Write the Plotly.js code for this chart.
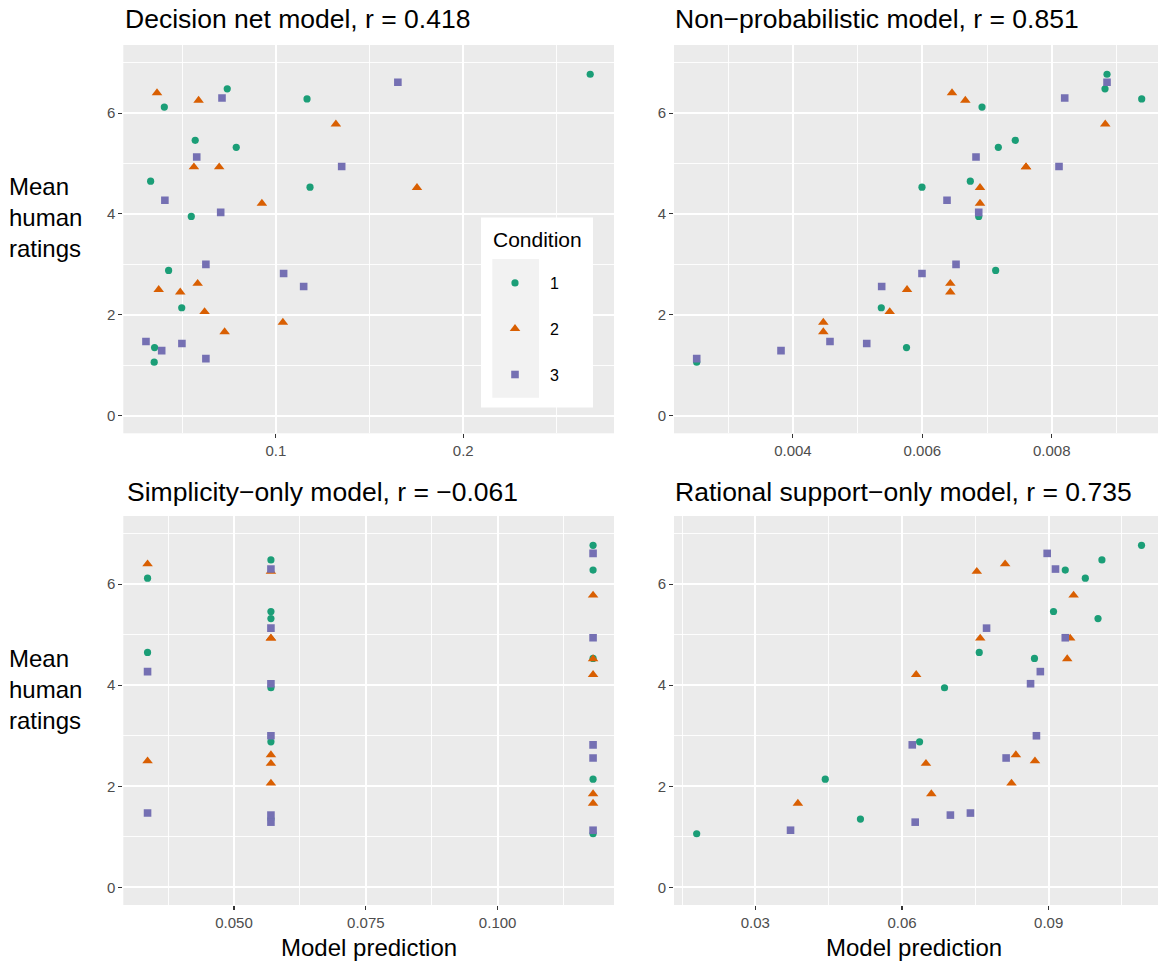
<!DOCTYPE html>
<html>
<head>
<meta charset="utf-8">
<script src="https://cdn.plot.ly/plotly-3.0.1.min.js"></script>
<style>html,body{margin:0;padding:0;background:#fff;}#chart{width:1158px;height:964px;}</style>
</head>
<body>
<div id="chart"></div>
<script>
// ---------------- data ----------------
const conditions = ["1", "2", "3"];
const panelTitles = [
  "Decision net model, r = 0.418",
  "Non\u2212probabilistic model, r = 0.851",
  "Simplicity\u2212only model, r = \u22120.061",
  "Rational support\u2212only model, r = 0.735"
];
const xAxisLabel = "Model prediction";
const yAxisLabel = "Mean<br>human<br>ratings";

// mean human ratings (same items across models)
const ratings1 = [6.77, 6.48, 6.28, 6.12, 5.46, 5.32, 4.65, 4.53, 3.95, 2.88, 2.14, 1.35, 1.06];
const ratings2 = [6.40, 6.25, 5.78, 4.93, 4.93, 4.52, 4.21, 2.62, 2.50, 2.45, 2.06, 1.85, 1.66];
const ratings3 = [6.61, 6.30, 5.13, 4.94, 4.27, 4.03, 3.00, 2.82, 2.56, 1.47, 1.43, 1.29, 1.13];

// Decision net model predictions
const decisionNet1 = [0.2678, 0.0740, 0.1166, 0.0404, 0.0569, 0.0788, 0.0331, 0.1182, 0.0548, 0.0427, 0.0497, 0.0352, 0.0350];
const decisionNet2 = [0.0365, 0.0587, 0.1320, 0.0562, 0.0697, 0.1753, 0.0925, 0.0582, 0.0374, 0.0489, 0.0619, 0.1037, 0.0726];
const decisionNet3 = [0.1651, 0.0712, 0.0577, 0.1351, 0.0407, 0.0705, 0.0626, 0.1041, 0.1148, 0.0306, 0.0498, 0.0390, 0.0626];

// Non-probabilistic model predictions
const nonProb1 = [0.008855, 0.008824, 0.009391, 0.006923, 0.007437, 0.007175, 0.006742, 0.005995, 0.006872, 0.007134, 0.005366, 0.005756, 0.002513];
const nonProb2 = [0.006459, 0.006665, 0.008828, 0.007603, 0.007603, 0.006892, 0.006892, 0.006433, 0.005764, 0.006433, 0.005496, 0.004470, 0.004470];
const nonProb3 = [0.008855, 0.008201, 0.006830, 0.008113, 0.006382, 0.006872, 0.006521, 0.005995, 0.005372, 0.004573, 0.005141, 0.003816, 0.002513];

// Simplicity-only model predictions
const simplicity1 = [0.1181, 0.0570, 0.1181, 0.0336, 0.0570, 0.0570, 0.0336, 0.1181, 0.0570, 0.0570, 0.1181, 0.0570, 0.1181];
const simplicity2 = [0.0336, 0.0570, 0.1181, 0.0570, 0.0570, 0.1181, 0.1181, 0.0570, 0.0336, 0.0570, 0.0570, 0.1181, 0.1181];
const simplicity3 = [0.1181, 0.0570, 0.0570, 0.1181, 0.0336, 0.0570, 0.0570, 0.1181, 0.1181, 0.0336, 0.0570, 0.0570, 0.1181];

// Rational support-only model predictions
const rational1 = [0.1090, 0.1009, 0.0934, 0.0975, 0.0910, 0.1001, 0.0758, 0.0871, 0.0687, 0.0636, 0.0443, 0.0515, 0.0180];
const rational2 = [0.0811, 0.0753, 0.0951, 0.0944, 0.0760, 0.0938, 0.0629, 0.0833, 0.0872, 0.0649, 0.0824, 0.0660, 0.0387];
const rational3 = [0.0897, 0.0914, 0.0773, 0.0934, 0.0883, 0.0863, 0.0875, 0.0621, 0.0813, 0.0740, 0.0699, 0.0627, 0.0372];

// ---------------- styling ----------------
const W = 1158, H = 964;
const FONT = "Liberation Sans, Arial, Helvetica, sans-serif";
const colors = ["#1B9E77", "#D95F02", "#7570B3"];
const symbols = ["circle", "triangle-up", "square"];
const sizes = [7.2, 9.2, 7.6];
const px = v => v / W;
const py = v => 1 - v / H;

const ratings = [ratings1, ratings2, ratings3];
const models = [
  [decisionNet1, decisionNet2, decisionNet3],
  [nonProb1, nonProb2, nonProb3],
  [simplicity1, simplicity2, simplicity3],
  [rational1, rational2, rational3]
];

const traces = [];
models.forEach((m, p) => {
  const ax = p === 0 ? "" : String(p + 1);
  m.forEach((xs, c) => {
    traces.push({
      type: "scatter", mode: "markers",
      x: xs, y: ratings[c],
      xaxis: "x" + ax, yaxis: "y" + ax,
      name: conditions[c],
      legendgroup: "g" + c,
      showlegend: p === 0,
      marker: {color: colors[c], symbol: symbols[c], size: sizes[c], line: {width: 0}},
      hoverinfo: "x+y"
    });
  });
});

const leftDom = [px(123.3), px(614)];
const rightDom = [px(674), 1];
const topDom = [py(433.3), py(45)];
const botDom = [py(905), py(516)];

function xax(dom, anchor, range, dtick, fmt) {
  return {
    domain: dom, anchor: anchor, range: range, autorange: false,
    tick0: 0, dtick: dtick, tickformat: fmt,
    ticks: "outside", ticklen: 4, tickwidth: 1.1, tickcolor: "#333333",
    tickfont: {family: FONT, size: 15, color: "#4D4D4D"},
    showgrid: true, gridcolor: "#FFFFFF", gridwidth: 1.8,
    minor: {tick0: 0, dtick: dtick / 2, showgrid: true, gridcolor: "#FFFFFF", gridwidth: 0.9, ticks: ""},
    zeroline: false, showline: false, fixedrange: true
  };
}
function yax(dom, anchor) {
  return {
    domain: dom, anchor: anchor, range: [-0.35, 7.35], autorange: false,
    tick0: 0, dtick: 2,
    ticks: "outside", ticklen: 4, tickwidth: 1.1, tickcolor: "#333333",
    tickfont: {family: FONT, size: 15, color: "#4D4D4D"},
    showgrid: true, gridcolor: "#FFFFFF", gridwidth: 1.8,
    minor: {tick0: 0, dtick: 1, showgrid: true, gridcolor: "#FFFFFF", gridwidth: 0.9, ticks: ""},
    zeroline: false, showline: false, fixedrange: true
  };
}

const titleFont = {family: FONT, size: 26.5, color: "#000000"};
const axisFont = {family: FONT, size: 24, color: "#000000"};

const annotations = [
  {text: panelTitles[0], x: px(122.5), y: py(19), xanchor: "left", yanchor: "middle"},
  {text: panelTitles[1], x: px(673), y: py(19), xanchor: "left", yanchor: "middle"},
  {text: panelTitles[2], x: px(124.5), y: py(492), xanchor: "left", yanchor: "middle"},
  {text: panelTitles[3], x: px(673), y: py(492), xanchor: "left", yanchor: "middle"}
].map(a => Object.assign(a, {xref: "paper", yref: "paper", showarrow: false, font: titleFont}));

[
  {text: xAxisLabel, x: px((123.3 + 614) / 2), y: py(947), xanchor: "center", yanchor: "middle"},
  {text: xAxisLabel, x: px(914), y: py(947), xanchor: "center", yanchor: "middle"},
  {text: yAxisLabel, x: px(7), y: py(218), xanchor: "left", yanchor: "middle", align: "left"},
  {text: yAxisLabel, x: px(7), y: py(689), xanchor: "left", yanchor: "middle", align: "left"}
].forEach(a => annotations.push(Object.assign(a, {xref: "paper", yref: "paper", showarrow: false, font: axisFont})));

annotations.push({text: "Condition", x: px(491), y: py(239), xref: "paper", yref: "paper",
  xanchor: "left", yanchor: "middle", showarrow: false, font: {family: FONT, size: 21, color: "#000000"}});

const shapes = [
  {type: "rect", xref: "paper", yref: "paper", x0: px(481), x1: px(593), y0: py(407.5), y1: py(217.5),
   fillcolor: "#FFFFFF", line: {width: 0}, layer: "above"},
  {type: "rect", xref: "paper", yref: "paper", x0: px(492.3), x1: px(539), y0: py(397.7), y1: py(259),
   fillcolor: "#F2F2F2", line: {width: 0}, layer: "above"}
];

const layout = {
  width: W, height: H,
  margin: {l: 0, r: 0, t: 0, b: 0, pad: 0},
  paper_bgcolor: "#FFFFFF", plot_bgcolor: "#EBEBEB",
  font: {family: FONT, color: "#000000"},
  showlegend: true,
  legend: {
    x: px(480), y: py(266), xanchor: "left", yanchor: "top",
    bgcolor: "rgba(0,0,0,0)", borderwidth: 0,
    font: {family: FONT, size: 16, color: "#000000"},
    itemwidth: 60, traceorder: "grouped", tracegroupgap: 22,
    itemclick: false, itemdoubleclick: false
  },
  xaxis: xax(leftDom, "y", [0.0185, 0.2805], 0.1, ".1f"),
  yaxis: yax(topDom, "x"),
  xaxis2: xax(rightDom, "y2", [0.002162, 0.009643], 0.002, ".3f"),
  yaxis2: yax(topDom, "x2"),
  xaxis3: xax(leftDom, "y3", [0.0290, 0.12207], 0.025, ".3f"),
  yaxis3: yax(botDom, "x3"),
  xaxis4: xax(rightDom, "y4", [0.01336, 0.11237], 0.03, ".2f"),
  yaxis4: yax(botDom, "x4"),
  annotations: annotations,
  shapes: shapes
};

Plotly.newPlot("chart", traces, layout, {displayModeBar: false, staticPlot: true});
</script>
</body>
</html>
